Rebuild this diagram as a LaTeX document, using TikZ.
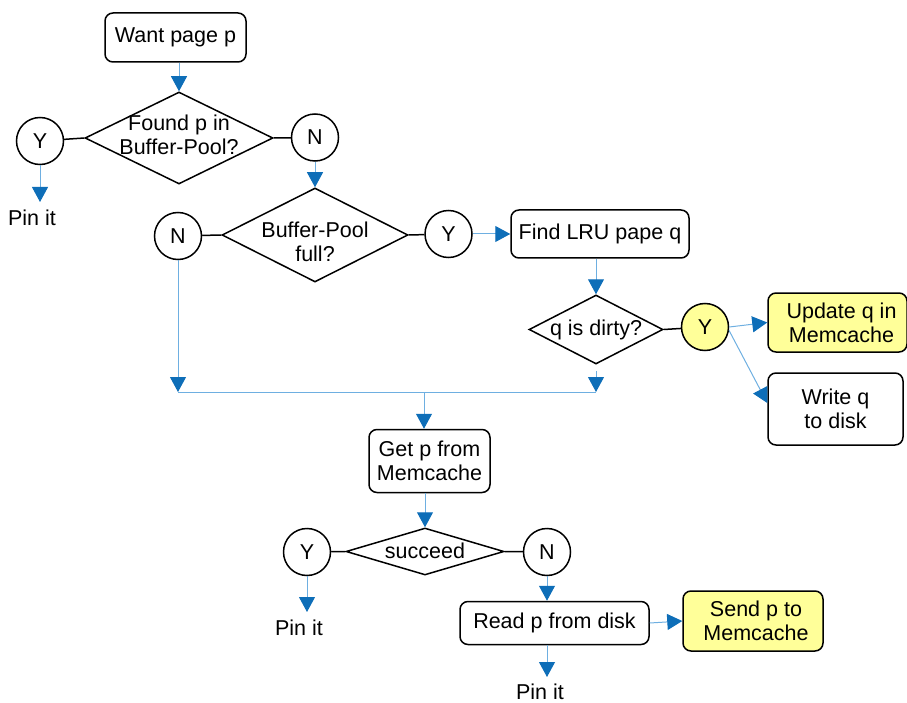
\documentclass[tikz,border=0pt]{standalone}
\usepackage{fontspec}
\setmainfont{Liberation Sans}
\usetikzlibrary{shapes.geometric,arrows.meta}

\definecolor{lineblue}{RGB}{110,175,225}
\definecolor{tipblue}{RGB}{14,110,184}
\definecolor{noteyellow}{RGB}{255,255,153}

\begin{document}
\begin{tikzpicture}[x=1pt,y=-1pt,
  every node/.style={font=\fontsize{21.5}{24}\selectfont},
  stepbox/.style={draw=black, line width=1.5pt, rounded corners=8pt,
    align=center, inner sep=2pt, fill=white},
  notebox/.style={stepbox, fill=noteyellow},
  decision/.style={draw=black, line width=1.5pt, diamond, inner sep=0pt, fill=white},
  answer/.style={draw=black, line width=1.5pt, circle, inner sep=0pt,
    minimum size=47pt, fill=white},
  pintext/.style={inner xsep=0pt, inner ysep=8pt, anchor=north},
  dtext/.style={align=center, inner sep=0pt},
  flow/.style={draw=lineblue, line width=1pt,
    -{Triangle[length=15pt,width=16pt,color=tipblue]}},
  wire/.style={draw=lineblue, line width=1pt},
  link/.style={draw=black, line width=1.5pt}]

\useasboundingbox (0,0) rectangle (907,703);

% top: look up the page in the buffer pool
\node[stepbox, minimum width=141pt, minimum height=49pt] (want) at (175.5,37.5) {Want page p};
\node[decision, minimum width=188pt, minimum height=92pt,
  label={[dtext, yshift=3pt]center:Found p in\\Buffer-Pool?}] (d1) at (179,138) {};
\node[answer] (y1) at (40,141) {Y};
\node[answer] (n1) at (315,137.5) {N};
\node[pintext] (pin1) at (32,202) {Pin it};

% buffer pool full?
\node[decision, minimum width=186pt, minimum height=94pt,
  label={[dtext, yshift=-7pt]center:Buffer-Pool\\full?}] (d2) at (315,235) {};
\node[answer] (n2) at (178,236) {N};
\node[answer] (y2) at (448.5,234) {Y};
\node[stepbox, minimum width=178pt, minimum height=48pt] (find) at (600,234) {Find LRU pape q};

% evict the LRU page
\node[decision, minimum width=134pt, minimum height=69pt,
  label={[dtext]center:q is dirty?}] (d3) at (596,329.5) {};
\node[answer, fill=noteyellow] (y3) at (705,327) {Y};
\node[notebox, minimum width=139pt, minimum height=59pt] (upd) at (837.5,322.5) {\hspace*{8pt}Update q in\\\hspace*{8pt}Memcache};
\node[stepbox, minimum width=135pt, minimum height=72pt] (write) at (835.5,409) {Write q\\to disk};

% merge point
\coordinate (j1) at (178,392);
\coordinate (j2) at (596,392);
\coordinate (j3) at (424,392);

% fetch from memcache, else from disk
\node[stepbox, minimum width=121pt, minimum height=63pt] (get) at (429.5,461) {Get p from\\Memcache};
\node[decision, minimum width=158pt, minimum height=47pt,
  label={[dtext, yshift=1pt]center:succeed}] (d4) at (425,551.5) {};
\node[answer] (y4) at (307,552) {Y};
\node[answer] (n4) at (547,552) {N};
\node[pintext] (pin2) at (299,612) {Pin it};
\node[stepbox, minimum width=189pt, minimum height=43pt] (read) at (554.5,623) {Read p from disk};
\node[notebox, minimum width=140pt, minimum height=60pt] (send) at (753,621) {\hspace*{6pt}Send p to\\\hspace*{6pt}Memcache};
\node[pintext, inner ysep=7pt] (pin3) at (540,677) {Pin it};

% connectors
\draw[flow] (want.south -| d1.north) -- (d1.north);
\draw[link] (y1) -- (d1.west);
\draw[link] (d1.east) -- (n1);
\draw[flow] (y1.south) -- (y1.south |- pin1.north);
\draw[flow] (n1.south) -- (d2.north);

\draw[link] (n2) -- (d2.west);
\draw[link] (d2.east) -- (y2);
\draw[flow] (y2.east) -- (find.west);
\draw[flow] (d3.north |- find.south) -- (d3.north);

\draw[link] (d3.east) -- (y3);
\draw[flow] (y3.east) -- (upd.west);
\draw[flow] (y3.-8) -- ([yshift=6pt]write.west);

\draw[flow] (n2.south) -- (j1);
\draw[flow] ([yshift=-6pt]d3.south) -- (j2);
\draw[wire] (j1) -- (j2);
\draw[flow] (j3) -- (j3 |- get.north);

\draw[flow] (d4.north |- get.south) -- (d4.north);
\draw[link] (y4) -- (d4.west);
\draw[link] (d4.east) -- (n4);
\draw[flow] (y4.south) -- (y4.south |- pin2.north);
\draw[flow] (n4.south) -- (n4.south |- read.north);
\draw[flow] (read.east) -- (send.west);
\draw[flow] (n4.south |- read.south) -- (n4.south |- pin3.north);

\end{tikzpicture}
\end{document}
